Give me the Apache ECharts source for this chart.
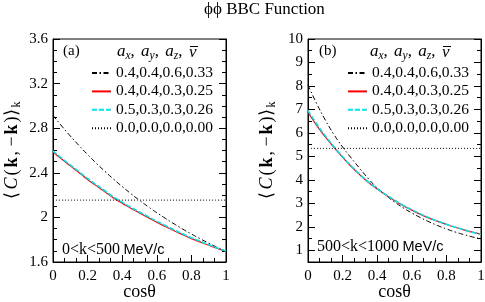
<!DOCTYPE html>
<html>
<head>
<meta charset="utf-8">
<script src="https://cdn.jsdelivr.net/npm/echarts@6/dist/echarts.min.js"></script>
<style>
html,body{margin:0;padding:0;background:#fff;}
#chart{width:485px;height:302px;}
</style>
</head>
<body>
<div id="chart"></div>
<script>
// ---- data ----
const cosTheta = [0, 0.05, 0.1, 0.15, 0.2, 0.25, 0.3, 0.35, 0.4, 0.45, 0.5, 0.55, 0.6, 0.65, 0.7, 0.75, 0.8, 0.85, 0.9, 0.95, 1];
const seriesNames = ['0.4,0.4,0.6,0.33', '0.4,0.4,0.3,0.25', '0.5,0.3,0.3,0.26', '0.0,0.0,0.0,0.00'];

// panel (a): 0<k<500 MeV/c
const aDashDot = [2.915, 2.820, 2.730, 2.645, 2.564, 2.486, 2.413, 2.343, 2.277, 2.213, 2.153, 2.096, 2.042, 1.991, 1.942, 1.895, 1.851, 1.809, 1.769, 1.731, 1.695];
const aRed     = [2.587, 2.523, 2.462, 2.403, 2.340, 2.285, 2.230, 2.175, 2.128, 2.082, 2.040, 1.998, 1.957, 1.918, 1.880, 1.845, 1.810, 1.780, 1.750, 1.722, 1.697];
const aCyan    = [2.596, 2.532, 2.471, 2.412, 2.349, 2.294, 2.239, 2.184, 2.137, 2.091, 2.049, 2.007, 1.966, 1.927, 1.889, 1.853, 1.818, 1.787, 1.756, 1.726, 1.699];
const aDotted  = [2.155, 2.155, 2.155, 2.155, 2.155, 2.155, 2.155, 2.155, 2.155, 2.155, 2.155, 2.155, 2.155, 2.155, 2.155, 2.155, 2.155, 2.155, 2.155, 2.155, 2.155];

// panel (b): 500<k<1000 MeV/c
const bDashDot = [8.04, 7.25, 6.55, 5.93, 5.40, 4.93, 4.48, 4.04, 3.66, 3.34, 3.06, 2.81, 2.59, 2.39, 2.21, 2.05, 1.91, 1.78, 1.67, 1.57, 1.48];
const bRed     = [6.88, 6.32, 5.83, 5.38, 4.96, 4.57, 4.21, 3.89, 3.61, 3.35, 3.12, 2.90, 2.71, 2.53, 2.37, 2.23, 2.10, 1.98, 1.87, 1.77, 1.68];
const bCyan    = [6.96, 6.39, 5.88, 5.42, 4.99, 4.59, 4.23, 3.91, 3.63, 3.37, 3.14, 2.92, 2.73, 2.55, 2.39, 2.24, 2.11, 1.99, 1.88, 1.77, 1.67];
const bDotted  = [5.34, 5.34, 5.34, 5.34, 5.34, 5.34, 5.34, 5.34, 5.34, 5.34, 5.34, 5.34, 5.34, 5.34, 5.34, 5.34, 5.34, 5.34, 5.34, 5.34, 5.34];

const xTicks = [0, 0.2, 0.4, 0.6, 0.8, 1];

// ---- chart ----
const SERIF = 'Liberation Serif';
const pairs = (ys) => cosTheta.map((x, i) => [x, ys[i]]);

const styles = [
  { color: '#000000', width: 1, type: [5, 2.5, 1.5, 2.5] },
  { color: '#ff0000', width: 1.2, type: 'solid' },
  { color: '#00e6ee', width: 1.6, type: [5, 2] },
  { color: '#000000', width: 1, type: [1, 2] }
];

function mkSeries(arrs, gi) {
  return arrs.map((ys, k) => ({
    name: seriesNames[k],
    type: 'line',
    xAxisIndex: gi,
    yAxisIndex: gi * 2,
    data: pairs(ys),
    symbol: 'none',
    smooth: true,
    silent: true,
    animation: false,
    lineStyle: { color: styles[k].color, width: styles[k].width, type: styles[k].type },
    itemStyle: { color: styles[k].color },
    z: 2 + k
  }));
}

const yName = '{a|⟨}{i|C}{a|(}{b|k}{a|, −}{b|k}{a|)⟩}{s|k}';
const yNameStyle = {
  color: '#000',
  rich: {
    a: { fontFamily: SERIF, fontSize: 18, color: '#000', padding: [0, 1, 0, 1] },
    i: { fontFamily: SERIF, fontSize: 18, fontStyle: 'italic', color: '#000', padding: [0, 1, 0, 1] },
    b: { fontFamily: SERIF, fontSize: 18, fontWeight: 'bold', color: '#000', padding: [0, 1, 0, 1] },
    s: { fontFamily: SERIF, fontSize: 12, color: '#000', padding: [9, 0, 0, 1] }
  }
};

function xAxisOf(gi) {
  return {
    type: 'value', gridIndex: gi, min: 0, max: 1, interval: 0.2,
    name: 'cosθ', nameLocation: 'middle', nameGap: 21, nameMoveOverlap: false,
    nameTextStyle: { fontFamily: SERIF, fontSize: 18, color: '#000' },
    axisLine: { show: true, lineStyle: { color: '#000', width: 1 } },
    axisTick: { show: true, inside: true, length: 7, lineStyle: { color: '#000' } },
    minorTick: { show: true, splitNumber: 3, length: 4, lineStyle: { color: '#000' } },
    axisLabel: { fontFamily: SERIF, fontSize: 15, color: '#000', margin: 7,
      formatter: (v) => xTicks.indexOf(v) >= 0 ? String(v) : '' },
    splitLine: { show: false }
  };
}

function yAxesOf(gi, cfg) {
  const common = {
    type: 'value', gridIndex: gi, min: cfg.min, max: cfg.max,
    axisLine: { show: true, lineStyle: { color: '#000', width: 1 } },
    axisTick: { show: true, inside: true, length: 7, lineStyle: { color: '#000' } },
    minorTick: { show: true, splitNumber: cfg.minor, length: 4, lineStyle: { color: '#000' } },
    splitLine: { show: false }
  };
  if (cfg.interval) { common.interval = cfg.interval; } else { common.splitNumber = cfg.split; }
  const left = Object.assign({}, common, {
    position: 'left',
    name: yName, nameLocation: 'middle', nameGap: 30, nameMoveOverlap: false, nameTextStyle: yNameStyle,
    axisLabel: { fontFamily: SERIF, fontSize: 15, color: '#000', margin: 5, showMinLabel: cfg.showMin }
  });
  const right = Object.assign({}, common, {
    position: 'right',
    axisLabel: { show: false }
  });
  return [left, right];
}

const chart = echarts.init(document.getElementById('chart'), null, { renderer: 'canvas' });

const headerRich = {
  a: { fontFamily: SERIF, fontSize: 17, fontStyle: 'italic', color: '#000' },
  s: { fontFamily: SERIF, fontSize: 11.5, fontStyle: 'italic', color: '#000', padding: [8, 0, 0, 0] },
  c: { fontFamily: SERIF, fontSize: 17, color: '#000', padding: [0, 2, 0, 0] }
};
const headerText = '{a|a}{s|x}{c|, }{a|a}{s|y}{c|, }{a|a}{s|z}{c|,}';
const nuStyle = { text: 'ν', font: 'italic 17px "Liberation Serif"', fill: '#000' };

function legendOf(left) {
  return {
    orient: 'vertical', left: left, top: 65, padding: 0,
    itemWidth: 19, itemHeight: 14, itemGap: 2.4,
    data: seriesNames,
    selectedMode: false,
    itemStyle: { opacity: 0 },
    textStyle: { fontFamily: SERIF, fontSize: 15.5, color: '#000', lineHeight: 16 }
  };
}

const kinRich = {
  d: { fontFamily: SERIF, fontSize: 16, color: '#000' },
  u: { fontFamily: 'Liberation Sans', fontSize: 14.5, color: '#000' }
};

chart.setOption({
  animation: false,
  backgroundColor: '#fff',
  title: {
    text: 'ϕϕ BBC Function', left: 204, top: 1, padding: 0,
    textStyle: { fontFamily: SERIF, fontSize: 17, fontWeight: 'normal', color: '#000' }
  },
  grid: [
    { left: 53, right: 259, top: 39, bottom: 40, outerBoundsMode: 'none', containLabel: false, show: true, borderColor: '#000', borderWidth: 1, backgroundColor: 'transparent' },
    { left: 308, right: 4, top: 39, bottom: 40, outerBoundsMode: 'none', containLabel: false, show: true, borderColor: '#000', borderWidth: 1, backgroundColor: 'transparent' }
  ],
  xAxis: [xAxisOf(0), xAxisOf(1)],
  yAxis: [].concat(
    yAxesOf(0, { min: 1.6, max: 3.6, interval: 0.4, minor: 4, showMin: true }),
    yAxesOf(1, { min: 0.5, max: 10, split: 10, minor: 2, showMin: false })
  ),
  legend: [legendOf(91), legendOf(347)],
  series: [].concat(
    mkSeries([aDashDot, aRed, aCyan, aDotted], 0),
    mkSeries([bDashDot, bRed, bCyan, bDotted], 1)
  ),
  graphic: [
    { type: 'text', left: 63, top: 44, style: { text: '(a)', font: '15px "Liberation Serif"', fill: '#000' } },
    { type: 'text', left: 319, top: 44, style: { text: '(b)', font: '15px "Liberation Serif"', fill: '#000' } },
    { type: 'text', left: 117, top: 43, style: { text: headerText, rich: headerRich } },
    { type: 'text', left: 370, top: 43, style: { text: headerText, rich: headerRich } },
    { type: 'text', left: 189, top: 44, style: nuStyle },
    { type: 'text', left: 442, top: 44, style: nuStyle },
    { type: 'line', shape: { x1: 190, y1: 46.5, x2: 198, y2: 46.5 }, style: { stroke: '#000', lineWidth: 1 } },
    { type: 'line', shape: { x1: 443, y1: 46.5, x2: 451, y2: 46.5 }, style: { stroke: '#000', lineWidth: 1 } },
    { type: 'text', left: 62, top: 242, style: { text: '{d|0<k<500} {u|MeV/c}', rich: kinRich } },
    { type: 'text', left: 317, top: 239, style: { text: '{d|500<k<1000} {u|MeV/c}', rich: kinRich } }
  ]
});
</script>
</body>
</html>
